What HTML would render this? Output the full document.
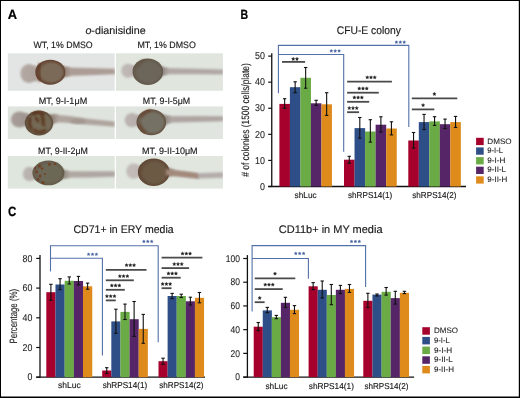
<!DOCTYPE html>
<html><head><meta charset="utf-8"><style>
html,body{margin:0;padding:0;background:#fff;width:520px;height:398px;overflow:hidden;}
svg{display:block;will-change:transform;font-family:"Liberation Sans", sans-serif;}
</style></head><body>
<svg width="520" height="398" viewBox="0 0 520 398" font-family="'Liberation Sans', sans-serif" text-rendering="geometricPrecision">
<defs><filter id="bl3" x="-30%" y="-30%" width="160%" height="160%"><feGaussianBlur stdDeviation="1.8"/></filter><filter id="bl0" x="-20%" y="-20%" width="140%" height="140%"><feGaussianBlur stdDeviation="0.55"/></filter><filter id="bl" x="-20%" y="-20%" width="140%" height="140%"><feGaussianBlur stdDeviation="0.8"/></filter><filter id="bl2" x="-20%" y="-20%" width="140%" height="140%"><feGaussianBlur stdDeviation="0.9"/></filter><radialGradient id="yk1" cx="55%" cy="55%" r="60%"><stop offset="0" stop-color="#7a6c5c"/><stop offset="0.7" stop-color="#6d5342"/><stop offset="1" stop-color="#5a3a28"/></radialGradient><radialGradient id="yk2" cx="55%" cy="55%" r="60%"><stop offset="0" stop-color="#746a5e"/><stop offset="0.8" stop-color="#6b6052"/><stop offset="1" stop-color="#5f5244"/></radialGradient><radialGradient id="yk6" cx="55%" cy="55%" r="60%"><stop offset="0" stop-color="#705640"/><stop offset="0.8" stop-color="#684a32"/><stop offset="1" stop-color="#5c3c26"/></radialGradient></defs>
<rect x="0" y="0" width="520" height="398" fill="#ffffff"/>
<rect x="7.8" y="53.3" width="106.9" height="37.5" fill="#e3e5e4"/>
<svg x="7.8" y="53.3" width="106.9" height="37.5" viewBox="7.8 53.3 106.9 37.5" overflow="hidden">
<linearGradient id="h5" x1="0" y1="0" x2="1" y2="0"><stop offset="0" stop-color="#aea29c" stop-opacity="0.9"/><stop offset="1" stop-color="#aea29c"/></linearGradient>
<ellipse cx="29.0" cy="73.5" rx="8.6" ry="9.6" fill="url(#h5)" filter="url(#bl2)"/>
<ellipse cx="35.9" cy="73.5" rx="5.2" ry="7.7" fill="#aea29c" filter="url(#bl2)"/>
<path d="M64.0,67.5 L90.0,68.0 L114.8,68.7 Q116.0,71.5 114.8,74.3 L114.8,74.3 L90.0,75.2 L64.0,76.0 Z" fill="#ab9c95" filter="url(#bl)"/>
<linearGradient id="n9" gradientUnits="userSpaceOnUse" x1="59.3" y1="0" x2="70.3" y2="0"><stop offset="0" stop-color="#7c6a58"/><stop offset="1" stop-color="#ab9c95"/></linearGradient>
<path d="M57.8,63.5 Q65.8,67.5 70.3,67.5 L70.3,76.0 Q65.8,76.0 57.8,81.0 Z" fill="url(#n9)" filter="url(#bl)"/>
<radialGradient id="r11" cx="0.5" cy="0.5" r="0.5" fx="0.64" fy="0.55"><stop offset="0" stop-color="#7c6a58"/><stop offset="0.68" stop-color="#7c6a58"/><stop offset="1" stop-color="#603e2c"/></radialGradient>
<ellipse cx="50.3" cy="72.2" rx="15.0" ry="12.5" fill="url(#r11)" filter="url(#bl0)"/>
<path d="M40,63.5 Q36.5,72 40.5,81.5" stroke="rgba(95,52,32,0.55)" stroke-width="4" fill="none" filter="url(#bl)"/>
</svg>
<rect x="116.0" y="53.3" width="106.9" height="37.5" fill="#e0e5de"/>
<svg x="116.0" y="53.3" width="106.9" height="37.5" viewBox="116.0 53.3 106.9 37.5" overflow="hidden">
<linearGradient id="h17" x1="0" y1="0" x2="1" y2="0"><stop offset="0" stop-color="#bcb4b1" stop-opacity="0.9"/><stop offset="1" stop-color="#bcb4b1"/></linearGradient>
<ellipse cx="128" cy="70.8" rx="6.8" ry="7.0" fill="url(#h17)" filter="url(#bl2)"/>
<ellipse cx="133.4" cy="70.8" rx="4.1" ry="5.6" fill="#bcb4b1" filter="url(#bl2)"/>
<path d="M162.0,67.9 L200.0,68.8 L222.9,69.6 Q224.1,72.0 222.9,74.4 L222.9,74.4 L200.0,74.2 L162.0,74.3 Z" fill="#b0a7a4" filter="url(#bl)"/>
<linearGradient id="n21" gradientUnits="userSpaceOnUse" x1="157.0" y1="0" x2="168.1" y2="0"><stop offset="0" stop-color="#6c665a"/><stop offset="1" stop-color="#b0a7a4"/></linearGradient>
<path d="M155.5,62.4 Q163.6,67.9 168.1,67.9 L168.1,74.3 Q163.6,74.3 155.5,81.0 Z" fill="url(#n21)" filter="url(#bl)"/>
<radialGradient id="r23" cx="0.5" cy="0.5" r="0.5" fx="0.64" fy="0.55"><stop offset="0" stop-color="#6c665a"/><stop offset="0.68" stop-color="#6c665a"/><stop offset="1" stop-color="#62584a"/></radialGradient>
<ellipse cx="147.8" cy="71.7" rx="15.3" ry="13.3" fill="url(#r23)" filter="url(#bl0)"/>
<path d="M137,67 Q139,62 145,59.5" stroke="rgba(100,70,50,0.35)" stroke-width="2.5" fill="none" filter="url(#bl)"/>
</svg>
<rect x="7.8" y="106.4" width="106.9" height="32.6" fill="#dfe5de"/>
<svg x="7.8" y="106.4" width="106.9" height="32.6" viewBox="7.8 106.4 106.9 32.6" overflow="hidden">
<linearGradient id="h29" x1="0" y1="0" x2="1" y2="0"><stop offset="0" stop-color="#a19590" stop-opacity="0.9"/><stop offset="1" stop-color="#a19590"/></linearGradient>
<ellipse cx="19.5" cy="119.5" rx="8.6" ry="8.0" fill="url(#h29)" filter="url(#bl2)"/>
<ellipse cx="26.4" cy="119.5" rx="5.2" ry="6.4" fill="#a19590" filter="url(#bl2)"/>
<path d="M52.0,114.6 L70.0,116.0 L86.0,118.5 L114.4,121.5 Q115.6,124.1 114.4,126.7 L114.4,126.7 L86.0,124.5 L70.0,123.0 L52.0,122.0 Z" fill="#afa49e" filter="url(#bl)"/>
<linearGradient id="n33" gradientUnits="userSpaceOnUse" x1="47.5" y1="0" x2="58.2" y2="0"><stop offset="0" stop-color="#746a57"/><stop offset="1" stop-color="#afa49e"/></linearGradient>
<path d="M46.1,114.3 Q53.7,114.6 58.2,114.6 L58.2,122.0 Q53.7,122.0 46.1,131.7 Z" fill="url(#n33)" filter="url(#bl)"/>
<radialGradient id="r35" cx="0.5" cy="0.5" r="0.5" fx="0.64" fy="0.55"><stop offset="0" stop-color="#746a57"/><stop offset="0.68" stop-color="#746a57"/><stop offset="1" stop-color="#5f4c3a"/></radialGradient>
<ellipse cx="39" cy="123" rx="14.2" ry="12.4" fill="url(#r35)" filter="url(#bl0)"/>
<ellipse cx="78" cy="121.3" rx="8" ry="2.4" fill="#a39690" filter="url(#bl)"/><g fill="none" stroke="rgba(88,45,22,0.85)" stroke-width="2.8" stroke-linecap="round" filter="url(#bl)"><path d="M33,114 Q38,111.5 43,114 Q41,117 43.5,120 Q42,123 44,125"/><path d="M30,119 Q29,124 31,128"/><path d="M34,130 Q39,134 45,130.5"/><path d="M36,118 L38,121"/></g>
</svg>
<rect x="116.0" y="106.4" width="106.9" height="32.6" fill="#e0e5df"/>
<svg x="116.0" y="106.4" width="106.9" height="32.6" viewBox="116.0 106.4 106.9 32.6" overflow="hidden">
<linearGradient id="h41" x1="0" y1="0" x2="1" y2="0"><stop offset="0" stop-color="#b8afac" stop-opacity="0.9"/><stop offset="1" stop-color="#b8afac"/></linearGradient>
<ellipse cx="131.8" cy="120.2" rx="7.1" ry="7.1" fill="url(#h41)" filter="url(#bl2)"/>
<ellipse cx="137.5" cy="120.2" rx="4.3" ry="5.7" fill="#b8afac" filter="url(#bl2)"/>
<path d="M165.8,116.2 L195.0,116.0 L222.9,116.2 Q224.1,118.8 222.9,121.3 L222.9,121.3 L195.0,122.0 L165.8,122.8 Z" fill="#aea5a2" filter="url(#bl)"/>
<linearGradient id="n45" gradientUnits="userSpaceOnUse" x1="160.2" y1="0" x2="171.1" y2="0"><stop offset="0" stop-color="#757265"/><stop offset="1" stop-color="#aea5a2"/></linearGradient>
<path d="M158.7,113.1 Q166.6,116.2 171.1,116.2 L171.1,122.8 Q166.6,122.8 158.7,131.3 Z" fill="url(#n45)" filter="url(#bl)"/>
<radialGradient id="r47" cx="0.5" cy="0.5" r="0.5" fx="0.64" fy="0.55"><stop offset="0" stop-color="#757265"/><stop offset="0.68" stop-color="#757265"/><stop offset="1" stop-color="#645140"/></radialGradient>
<ellipse cx="151.3" cy="122.2" rx="14.8" ry="13.0" fill="url(#r47)" filter="url(#bl0)"/>
<path d="M141,117 Q144.5,111.5 151,110.5 M139.5,124 Q141,129.5 146,132.5" stroke="rgba(100,55,32,0.55)" stroke-width="3" fill="none" filter="url(#bl)"/>
</svg>
<rect x="7.8" y="156.0" width="106.9" height="32.6" fill="#dfe6dd"/>
<svg x="7.8" y="156.0" width="106.9" height="32.6" viewBox="7.8 156.0 106.9 32.6" overflow="hidden">
<linearGradient id="h53" x1="0" y1="0" x2="1" y2="0"><stop offset="0" stop-color="#b7afac" stop-opacity="0.9"/><stop offset="1" stop-color="#b7afac"/></linearGradient>
<ellipse cx="29.5" cy="173.9" rx="6.7" ry="7.1" fill="url(#h53)" filter="url(#bl2)"/>
<ellipse cx="34.9" cy="173.9" rx="4.0" ry="5.7" fill="#b7afac" filter="url(#bl2)"/>
<path d="M64.2,171.2 L90.0,171.2 L114.6,171.3 Q115.8,174.0 114.6,176.7 L114.6,176.7 L90.0,177.4 L64.2,177.8 Z" fill="#afa6a2" filter="url(#bl)"/>
<linearGradient id="n57" gradientUnits="userSpaceOnUse" x1="58.0" y1="0" x2="69.4" y2="0"><stop offset="0" stop-color="#6c6757"/><stop offset="1" stop-color="#afa6a2"/></linearGradient>
<path d="M56.4,164.2 Q64.9,171.2 69.4,171.2 L69.4,177.8 Q64.9,177.8 56.4,181.6 Z" fill="url(#n57)" filter="url(#bl)"/>
<radialGradient id="r59" cx="0.5" cy="0.5" r="0.5" fx="0.64" fy="0.55"><stop offset="0" stop-color="#6c6757"/><stop offset="0.68" stop-color="#6c6757"/><stop offset="1" stop-color="#635a49"/></radialGradient>
<ellipse cx="48.4" cy="172.9" rx="16.0" ry="12.4" fill="url(#r59)" filter="url(#bl0)"/>
<g fill="rgba(115,58,28,0.85)" filter="url(#bl0)"><circle cx="39.5" cy="166" r="1.6"/><circle cx="42" cy="168.5" r="1.3"/><circle cx="36.5" cy="172" r="1.4"/><circle cx="40" cy="176" r="1.5"/><circle cx="38" cy="179.5" r="1.3"/><circle cx="43" cy="182.5" r="1.5"/><circle cx="49.5" cy="164.5" r="1.4"/><circle cx="55" cy="164" r="1.2"/><circle cx="45" cy="174" r="1.1"/><circle cx="35" cy="168" r="1.1"/></g>
</svg>
<rect x="116.0" y="156.0" width="106.9" height="32.6" fill="#e1e6df"/>
<svg x="116.0" y="156.0" width="106.9" height="32.6" viewBox="116.0 156.0 106.9 32.6" overflow="hidden">
<linearGradient id="h65" x1="0" y1="0" x2="1" y2="0"><stop offset="0" stop-color="#c0b8b5" stop-opacity="0.9"/><stop offset="1" stop-color="#c0b8b5"/></linearGradient>
<ellipse cx="133.5" cy="171.1" rx="7.3" ry="7.6" fill="url(#h65)" filter="url(#bl2)"/>
<ellipse cx="139.3" cy="171.1" rx="4.4" ry="6.1" fill="#c0b8b5" filter="url(#bl2)"/>
<path d="M168.8,169.5 L197.5,173.3 L222.9,172.3 Q224.1,175.0 222.9,177.7 L222.9,177.7 L197.5,178.5 L168.8,175.1 Z" fill="#b3acaa" filter="url(#bl)"/>
<linearGradient id="n69" gradientUnits="userSpaceOnUse" x1="163.2" y1="0" x2="174.5" y2="0"><stop offset="0" stop-color="#6d5a45"/><stop offset="1" stop-color="#b3acaa"/></linearGradient>
<path d="M161.6,162.6 Q170.0,169.5 174.5,169.5 L174.5,175.1 Q170.0,175.1 161.6,182.0 Z" fill="url(#n69)" filter="url(#bl)"/>
<radialGradient id="r71" cx="0.5" cy="0.5" r="0.5" fx="0.64" fy="0.55"><stop offset="0" stop-color="#6d5a45"/><stop offset="0.68" stop-color="#6d5a45"/><stop offset="1" stop-color="#5e4633"/></radialGradient>
<ellipse cx="153.7" cy="172.3" rx="15.8" ry="13.8" fill="url(#r71)" filter="url(#bl0)"/>
<path d="M166,169.3 L197.5,173.3 L199,178.5 L166,175.1 Z" fill="#a3897a" filter="url(#bl)"/>
</svg>
<text x="85.4" y="34.4" font-size="10.7" text-anchor="start" fill="#1a1a1a" font-weight="normal" textLength="60.3" lengthAdjust="spacingAndGlyphs" stroke="#1a1a1a" stroke-width="0.15" ><tspan font-style="italic">o</tspan>-dianisidine</text>
<text x="33.5" y="48.1" font-size="9.2" text-anchor="start" fill="#1a1a1a" font-weight="normal" textLength="59.2" lengthAdjust="spacingAndGlyphs" stroke="#1a1a1a" stroke-width="0.15" >WT, 1% DMSO</text>
<text x="137.4" y="48.1" font-size="9.2" text-anchor="start" fill="#1a1a1a" font-weight="normal" textLength="58.5" lengthAdjust="spacingAndGlyphs" stroke="#1a1a1a" stroke-width="0.15" >MT, 1% DMSO</text>
<text x="38.7" y="104.1" font-size="9.2" text-anchor="start" fill="#1a1a1a" font-weight="normal" textLength="48.5" lengthAdjust="spacingAndGlyphs" stroke="#1a1a1a" stroke-width="0.15" >MT, 9-I-1μM</text>
<text x="142.8" y="104.1" font-size="9.2" text-anchor="start" fill="#1a1a1a" font-weight="normal" textLength="47.4" lengthAdjust="spacingAndGlyphs" stroke="#1a1a1a" stroke-width="0.15" >MT, 9-I-5μM</text>
<text x="38.1" y="154.0" font-size="9.2" text-anchor="start" fill="#1a1a1a" font-weight="normal" textLength="49.8" lengthAdjust="spacingAndGlyphs" stroke="#1a1a1a" stroke-width="0.15" >MT, 9-II-2μM</text>
<text x="142" y="154.0" font-size="9.2" text-anchor="start" fill="#1a1a1a" font-weight="normal" textLength="55.6" lengthAdjust="spacingAndGlyphs" stroke="#1a1a1a" stroke-width="0.15" >MT, 9-II-10μM</text>
<text x="7.8" y="18.5" font-size="13.4" text-anchor="start" fill="#000" font-weight="bold" textLength="9.3" lengthAdjust="spacingAndGlyphs" stroke="#000" stroke-width="0.2" >A</text>
<text x="240.5" y="18.5" font-size="13.4" text-anchor="start" fill="#000" font-weight="bold" textLength="7.6" lengthAdjust="spacingAndGlyphs" stroke="#000" stroke-width="0.2" >B</text>
<text x="8.0" y="216.3" font-size="13.4" text-anchor="start" fill="#000" font-weight="bold" textLength="8.3" lengthAdjust="spacingAndGlyphs" stroke="#000" stroke-width="0.2" >C</text>
<line x1="271.75" y1="53.2" x2="271.75" y2="187.1" stroke="#111" stroke-width="1.3"/>
<line x1="268.2" y1="186.5" x2="271.75" y2="186.5" stroke="#111" stroke-width="1.2"/>
<text x="264.9" y="189.7" font-size="10" text-anchor="end" fill="#1e1e1e" font-weight="normal" textLength="4.95" lengthAdjust="spacingAndGlyphs" stroke="#1e1e1e" stroke-width="0.1" >0</text>
<line x1="268.2" y1="160.42" x2="271.75" y2="160.42" stroke="#111" stroke-width="1.2"/>
<text x="264.9" y="163.61999999999998" font-size="10" text-anchor="end" fill="#1e1e1e" font-weight="normal" textLength="9.9" lengthAdjust="spacingAndGlyphs" stroke="#1e1e1e" stroke-width="0.1" >10</text>
<line x1="268.2" y1="134.34" x2="271.75" y2="134.34" stroke="#111" stroke-width="1.2"/>
<text x="264.9" y="137.54" font-size="10" text-anchor="end" fill="#1e1e1e" font-weight="normal" textLength="9.9" lengthAdjust="spacingAndGlyphs" stroke="#1e1e1e" stroke-width="0.1" >20</text>
<line x1="268.2" y1="108.25999999999999" x2="271.75" y2="108.25999999999999" stroke="#111" stroke-width="1.2"/>
<text x="264.9" y="111.46" font-size="10" text-anchor="end" fill="#1e1e1e" font-weight="normal" textLength="9.9" lengthAdjust="spacingAndGlyphs" stroke="#1e1e1e" stroke-width="0.1" >30</text>
<line x1="268.2" y1="82.17999999999999" x2="271.75" y2="82.17999999999999" stroke="#111" stroke-width="1.2"/>
<text x="264.9" y="85.38" font-size="10" text-anchor="end" fill="#1e1e1e" font-weight="normal" textLength="9.9" lengthAdjust="spacingAndGlyphs" stroke="#1e1e1e" stroke-width="0.1" >40</text>
<line x1="268.2" y1="56.099999999999994" x2="271.75" y2="56.099999999999994" stroke="#111" stroke-width="1.2"/>
<text x="264.9" y="59.3" font-size="10" text-anchor="end" fill="#1e1e1e" font-weight="normal" textLength="9.9" lengthAdjust="spacingAndGlyphs" stroke="#1e1e1e" stroke-width="0.1" >50</text>
<line x1="268.2" y1="186.5" x2="466" y2="186.5" stroke="#111" stroke-width="1.3"/>
<rect x="279.40" y="103.9" width="10.55" height="82.60" fill="#a6002c"/>
<rect x="289.90" y="87.2" width="10.55" height="99.30" fill="#2d4e86"/>
<rect x="300.40" y="77.8" width="10.55" height="108.70" fill="#6aab45"/>
<rect x="310.90" y="103.3" width="10.55" height="83.20" fill="#552567"/>
<rect x="321.40" y="104.3" width="10.55" height="82.20" fill="#de8b1c"/>
<line x1="284.65" y1="98.7" x2="284.65" y2="108.3" stroke="#111" stroke-width="1.1"/>
<line x1="282.95" y1="98.7" x2="286.34999999999997" y2="98.7" stroke="#111" stroke-width="1.1"/>
<line x1="282.95" y1="108.3" x2="286.34999999999997" y2="108.3" stroke="#111" stroke-width="1.1"/>
<line x1="295.15" y1="81.8" x2="295.15" y2="92.7" stroke="#111" stroke-width="1.1"/>
<line x1="293.45" y1="81.8" x2="296.84999999999997" y2="81.8" stroke="#111" stroke-width="1.1"/>
<line x1="293.45" y1="92.7" x2="296.84999999999997" y2="92.7" stroke="#111" stroke-width="1.1"/>
<line x1="305.65" y1="67.5" x2="305.65" y2="88.2" stroke="#111" stroke-width="1.1"/>
<line x1="303.95" y1="67.5" x2="307.34999999999997" y2="67.5" stroke="#111" stroke-width="1.1"/>
<line x1="303.95" y1="88.2" x2="307.34999999999997" y2="88.2" stroke="#111" stroke-width="1.1"/>
<line x1="316.15" y1="100.3" x2="316.15" y2="105.3" stroke="#111" stroke-width="1.1"/>
<line x1="314.45" y1="100.3" x2="317.84999999999997" y2="100.3" stroke="#111" stroke-width="1.1"/>
<line x1="314.45" y1="105.3" x2="317.84999999999997" y2="105.3" stroke="#111" stroke-width="1.1"/>
<line x1="326.65" y1="92.7" x2="326.65" y2="115.4" stroke="#111" stroke-width="1.1"/>
<line x1="324.95" y1="92.7" x2="328.34999999999997" y2="92.7" stroke="#111" stroke-width="1.1"/>
<line x1="324.95" y1="115.4" x2="328.34999999999997" y2="115.4" stroke="#111" stroke-width="1.1"/>
<rect x="344.00" y="159.7" width="10.59" height="26.80" fill="#a6002c"/>
<rect x="354.54" y="128.1" width="10.59" height="58.40" fill="#2d4e86"/>
<rect x="365.08" y="131.5" width="10.59" height="55.00" fill="#6aab45"/>
<rect x="375.62" y="124.7" width="10.59" height="61.80" fill="#552567"/>
<rect x="386.16" y="128.5" width="10.59" height="58.00" fill="#de8b1c"/>
<line x1="349.27" y1="156.3" x2="349.27" y2="163.3" stroke="#111" stroke-width="1.1"/>
<line x1="347.57" y1="156.3" x2="350.96999999999997" y2="156.3" stroke="#111" stroke-width="1.1"/>
<line x1="347.57" y1="163.3" x2="350.96999999999997" y2="163.3" stroke="#111" stroke-width="1.1"/>
<line x1="359.81" y1="117.5" x2="359.81" y2="138.2" stroke="#111" stroke-width="1.1"/>
<line x1="358.11" y1="117.5" x2="361.51" y2="117.5" stroke="#111" stroke-width="1.1"/>
<line x1="358.11" y1="138.2" x2="361.51" y2="138.2" stroke="#111" stroke-width="1.1"/>
<line x1="370.34999999999997" y1="119.7" x2="370.34999999999997" y2="142.1" stroke="#111" stroke-width="1.1"/>
<line x1="368.65" y1="119.7" x2="372.04999999999995" y2="119.7" stroke="#111" stroke-width="1.1"/>
<line x1="368.65" y1="142.1" x2="372.04999999999995" y2="142.1" stroke="#111" stroke-width="1.1"/>
<line x1="380.89" y1="116.8" x2="380.89" y2="132.1" stroke="#111" stroke-width="1.1"/>
<line x1="379.19" y1="116.8" x2="382.59" y2="116.8" stroke="#111" stroke-width="1.1"/>
<line x1="379.19" y1="132.1" x2="382.59" y2="132.1" stroke="#111" stroke-width="1.1"/>
<line x1="391.42999999999995" y1="121.8" x2="391.42999999999995" y2="134.9" stroke="#111" stroke-width="1.1"/>
<line x1="389.72999999999996" y1="121.8" x2="393.12999999999994" y2="121.8" stroke="#111" stroke-width="1.1"/>
<line x1="389.72999999999996" y1="134.9" x2="393.12999999999994" y2="134.9" stroke="#111" stroke-width="1.1"/>
<rect x="408.30" y="140.5" width="10.55" height="46.00" fill="#a6002c"/>
<rect x="418.80" y="122.1" width="10.55" height="64.40" fill="#2d4e86"/>
<rect x="429.30" y="121.4" width="10.55" height="65.10" fill="#6aab45"/>
<rect x="439.80" y="124.2" width="10.55" height="62.30" fill="#552567"/>
<rect x="450.30" y="122.1" width="10.55" height="64.40" fill="#de8b1c"/>
<line x1="413.55" y1="132.5" x2="413.55" y2="148.1" stroke="#111" stroke-width="1.1"/>
<line x1="411.85" y1="132.5" x2="415.25" y2="132.5" stroke="#111" stroke-width="1.1"/>
<line x1="411.85" y1="148.1" x2="415.25" y2="148.1" stroke="#111" stroke-width="1.1"/>
<line x1="424.05" y1="114.4" x2="424.05" y2="129.5" stroke="#111" stroke-width="1.1"/>
<line x1="422.35" y1="114.4" x2="425.75" y2="114.4" stroke="#111" stroke-width="1.1"/>
<line x1="422.35" y1="129.5" x2="425.75" y2="129.5" stroke="#111" stroke-width="1.1"/>
<line x1="434.55" y1="116.7" x2="434.55" y2="125.4" stroke="#111" stroke-width="1.1"/>
<line x1="432.85" y1="116.7" x2="436.25" y2="116.7" stroke="#111" stroke-width="1.1"/>
<line x1="432.85" y1="125.4" x2="436.25" y2="125.4" stroke="#111" stroke-width="1.1"/>
<line x1="445.05" y1="119.1" x2="445.05" y2="128.5" stroke="#111" stroke-width="1.1"/>
<line x1="443.35" y1="119.1" x2="446.75" y2="119.1" stroke="#111" stroke-width="1.1"/>
<line x1="443.35" y1="128.5" x2="446.75" y2="128.5" stroke="#111" stroke-width="1.1"/>
<line x1="455.55" y1="116.4" x2="455.55" y2="127.4" stroke="#111" stroke-width="1.1"/>
<line x1="453.85" y1="116.4" x2="457.25" y2="116.4" stroke="#111" stroke-width="1.1"/>
<line x1="453.85" y1="127.4" x2="457.25" y2="127.4" stroke="#111" stroke-width="1.1"/>
<polyline points="278.4,93.3 278.4,45.4 408.8,45.4 408.8,127.0" fill="none" stroke="#5470a8" stroke-width="1.1"/>
<polyline points="278.4,54.5 343.7,54.5 343.7,151.8" fill="none" stroke="#5470a8" stroke-width="1.1"/>
<polygon points="331.30,49.40 331.77,50.35 332.82,50.51 332.06,51.25 332.24,52.29 331.30,51.80 330.36,52.29 330.54,51.25 329.78,50.51 330.83,50.35" fill="#44609e" stroke="#44609e" stroke-width="0.35" stroke-linejoin="round"/>
<polygon points="335.20,49.40 335.67,50.35 336.72,50.51 335.96,51.25 336.14,52.29 335.20,51.80 334.26,52.29 334.44,51.25 333.68,50.51 334.73,50.35" fill="#44609e" stroke="#44609e" stroke-width="0.35" stroke-linejoin="round"/>
<polygon points="339.10,49.40 339.57,50.35 340.62,50.51 339.86,51.25 340.04,52.29 339.10,51.80 338.16,52.29 338.34,51.25 337.58,50.51 338.63,50.35" fill="#44609e" stroke="#44609e" stroke-width="0.35" stroke-linejoin="round"/>
<polygon points="396.40,40.60 396.87,41.55 397.92,41.71 397.16,42.45 397.34,43.49 396.40,43.00 395.46,43.49 395.64,42.45 394.88,41.71 395.93,41.55" fill="#44609e" stroke="#44609e" stroke-width="0.35" stroke-linejoin="round"/>
<polygon points="400.30,40.60 400.77,41.55 401.82,41.71 401.06,42.45 401.24,43.49 400.30,43.00 399.36,43.49 399.54,42.45 398.78,41.71 399.83,41.55" fill="#44609e" stroke="#44609e" stroke-width="0.35" stroke-linejoin="round"/>
<polygon points="404.20,40.60 404.67,41.55 405.72,41.71 404.96,42.45 405.14,43.49 404.20,43.00 403.26,43.49 403.44,42.45 402.68,41.71 403.73,41.55" fill="#44609e" stroke="#44609e" stroke-width="0.35" stroke-linejoin="round"/>
<line x1="282" y1="61.9" x2="305.1" y2="61.9" stroke="#4a4a4a" stroke-width="1.8"/>
<polygon points="293.23,57.25 293.74,58.29 294.89,58.46 294.06,59.27 294.25,60.42 293.23,59.88 292.20,60.42 292.39,59.27 291.56,58.46 292.71,58.29" fill="#1e1e1e" stroke="#1e1e1e" stroke-width="0.35" stroke-linejoin="round"/>
<polygon points="296.98,57.25 297.49,58.29 298.64,58.46 297.81,59.27 298.00,60.42 296.98,59.88 295.95,60.42 296.14,59.27 295.31,58.46 296.46,58.29" fill="#1e1e1e" stroke="#1e1e1e" stroke-width="0.35" stroke-linejoin="round"/>
<line x1="347.1" y1="81.7" x2="391.9" y2="81.7" stroke="#4a4a4a" stroke-width="1.8"/>
<polygon points="367.25,75.65 367.76,76.69 368.91,76.86 368.08,77.67 368.28,78.82 367.25,78.28 366.22,78.82 366.42,77.67 365.59,76.86 366.74,76.69" fill="#1e1e1e" stroke="#1e1e1e" stroke-width="0.35" stroke-linejoin="round"/>
<polygon points="371.00,75.65 371.51,76.69 372.66,76.86 371.83,77.67 372.03,78.82 371.00,78.28 369.97,78.82 370.17,77.67 369.34,76.86 370.49,76.69" fill="#1e1e1e" stroke="#1e1e1e" stroke-width="0.35" stroke-linejoin="round"/>
<polygon points="374.75,75.65 375.26,76.69 376.41,76.86 375.58,77.67 375.78,78.82 374.75,78.28 373.72,78.82 373.92,77.67 373.09,76.86 374.24,76.69" fill="#1e1e1e" stroke="#1e1e1e" stroke-width="0.35" stroke-linejoin="round"/>
<line x1="347.1" y1="92.7" x2="378.8" y2="92.7" stroke="#4a4a4a" stroke-width="1.8"/>
<polygon points="359.25,86.75 359.76,87.79 360.91,87.96 360.08,88.77 360.28,89.92 359.25,89.38 358.22,89.92 358.42,88.77 357.59,87.96 358.74,87.79" fill="#1e1e1e" stroke="#1e1e1e" stroke-width="0.35" stroke-linejoin="round"/>
<polygon points="363.00,86.75 363.51,87.79 364.66,87.96 363.83,88.77 364.03,89.92 363.00,89.38 361.97,89.92 362.17,88.77 361.34,87.96 362.49,87.79" fill="#1e1e1e" stroke="#1e1e1e" stroke-width="0.35" stroke-linejoin="round"/>
<polygon points="366.75,86.75 367.26,87.79 368.41,87.96 367.58,88.77 367.78,89.92 366.75,89.38 365.72,89.92 365.92,88.77 365.09,87.96 366.24,87.79" fill="#1e1e1e" stroke="#1e1e1e" stroke-width="0.35" stroke-linejoin="round"/>
<line x1="347.1" y1="101.8" x2="369.2" y2="101.8" stroke="#4a4a4a" stroke-width="1.8"/>
<polygon points="354.35,95.75 354.86,96.79 356.01,96.96 355.18,97.77 355.38,98.92 354.35,98.38 353.32,98.92 353.52,97.77 352.69,96.96 353.84,96.79" fill="#1e1e1e" stroke="#1e1e1e" stroke-width="0.35" stroke-linejoin="round"/>
<polygon points="358.10,95.75 358.61,96.79 359.76,96.96 358.93,97.77 359.13,98.92 358.10,98.38 357.07,98.92 357.27,97.77 356.44,96.96 357.59,96.79" fill="#1e1e1e" stroke="#1e1e1e" stroke-width="0.35" stroke-linejoin="round"/>
<polygon points="361.85,95.75 362.36,96.79 363.51,96.96 362.68,97.77 362.88,98.92 361.85,98.38 360.82,98.92 361.02,97.77 360.19,96.96 361.34,96.79" fill="#1e1e1e" stroke="#1e1e1e" stroke-width="0.35" stroke-linejoin="round"/>
<line x1="347.1" y1="112.2" x2="359.1" y2="112.2" stroke="#4a4a4a" stroke-width="1.8"/>
<polygon points="349.25,106.35 349.76,107.39 350.91,107.56 350.08,108.37 350.28,109.52 349.25,108.97 348.22,109.52 348.42,108.37 347.59,107.56 348.74,107.39" fill="#1e1e1e" stroke="#1e1e1e" stroke-width="0.35" stroke-linejoin="round"/>
<polygon points="353.00,106.35 353.51,107.39 354.66,107.56 353.83,108.37 354.03,109.52 353.00,108.97 351.97,109.52 352.17,108.37 351.34,107.56 352.49,107.39" fill="#1e1e1e" stroke="#1e1e1e" stroke-width="0.35" stroke-linejoin="round"/>
<polygon points="356.75,106.35 357.26,107.39 358.41,107.56 357.58,108.37 357.78,109.52 356.75,108.97 355.72,109.52 355.92,108.37 355.09,107.56 356.24,107.39" fill="#1e1e1e" stroke="#1e1e1e" stroke-width="0.35" stroke-linejoin="round"/>
<line x1="411.8" y1="98.4" x2="457.3" y2="98.4" stroke="#4a4a4a" stroke-width="1.8"/>
<polygon points="434.40,92.25 434.91,93.29 436.06,93.46 435.23,94.27 435.43,95.42 434.40,94.88 433.37,95.42 433.57,94.27 432.74,93.46 433.89,93.29" fill="#1e1e1e" stroke="#1e1e1e" stroke-width="0.35" stroke-linejoin="round"/>
<line x1="411.8" y1="109.4" x2="434.3" y2="109.4" stroke="#4a4a4a" stroke-width="1.8"/>
<polygon points="423.10,103.45 423.61,104.49 424.76,104.66 423.93,105.47 424.13,106.62 423.10,106.08 422.07,106.62 422.27,105.47 421.44,104.66 422.59,104.49" fill="#1e1e1e" stroke="#1e1e1e" stroke-width="0.35" stroke-linejoin="round"/>
<text x="294.6" y="198" font-size="8.6" text-anchor="start" fill="#222" font-weight="normal" textLength="22.1" lengthAdjust="spacingAndGlyphs" stroke="#222" stroke-width="0.15" >shLuc</text>
<text x="348" y="198" font-size="8.6" text-anchor="start" fill="#222" font-weight="normal" textLength="44.3" lengthAdjust="spacingAndGlyphs" stroke="#222" stroke-width="0.15" >shRPS14(1)</text>
<text x="412.3" y="198" font-size="8.6" text-anchor="start" fill="#222" font-weight="normal" textLength="44.2" lengthAdjust="spacingAndGlyphs" stroke="#222" stroke-width="0.15" >shRPS14(2)</text>
<text x="336.7" y="33.5" font-size="11" text-anchor="start" fill="#1a1a1a" font-weight="normal" textLength="64.2" lengthAdjust="spacingAndGlyphs" stroke="#1a1a1a" stroke-width="0.15" >CFU-E colony</text>
<rect x="476.1" y="137.8" width="7.6" height="7.3" fill="#a6002c"/>
<text x="487.3" y="143.6" font-size="7.9" text-anchor="start" fill="#1a1a1a" font-weight="normal" textLength="24.3" lengthAdjust="spacingAndGlyphs" stroke="#1a1a1a" stroke-width="0.08" >DMSO</text>
<rect x="476.1" y="147.4" width="7.6" height="7.3" fill="#2d4e86"/>
<text x="487.3" y="153.23" font-size="7.9" text-anchor="start" fill="#1a1a1a" font-weight="normal" textLength="15.7" lengthAdjust="spacingAndGlyphs" stroke="#1a1a1a" stroke-width="0.08" >9-I-L</text>
<rect x="476.1" y="157.1" width="7.6" height="7.3" fill="#6aab45"/>
<text x="487.3" y="162.86" font-size="7.9" text-anchor="start" fill="#1a1a1a" font-weight="normal" textLength="18.1" lengthAdjust="spacingAndGlyphs" stroke="#1a1a1a" stroke-width="0.08" >9-I-H</text>
<rect x="476.1" y="166.7" width="7.6" height="7.3" fill="#552567"/>
<text x="487.3" y="172.49" font-size="7.9" text-anchor="start" fill="#1a1a1a" font-weight="normal" textLength="18.8" lengthAdjust="spacingAndGlyphs" stroke="#1a1a1a" stroke-width="0.08" >9-II-L</text>
<rect x="476.1" y="176.3" width="7.6" height="7.3" fill="#de8b1c"/>
<text x="487.3" y="182.12" font-size="7.9" text-anchor="start" fill="#1a1a1a" font-weight="normal" textLength="20.0" lengthAdjust="spacingAndGlyphs" stroke="#1a1a1a" stroke-width="0.08" >9-II-H</text>
<text x="0" y="0" font-size="10.6" text-anchor="middle" fill="#222" stroke="#222" stroke-width="0.12" textLength="113.5" lengthAdjust="spacingAndGlyphs" transform="translate(248.9,120.05) rotate(-90)"># of colonies (1500 cells/plate)</text>
<line x1="40.0" y1="255.1" x2="40.0" y2="377.8" stroke="#111" stroke-width="1.3"/>
<line x1="36.2" y1="377.2" x2="40.0" y2="377.2" stroke="#111" stroke-width="1.2"/>
<text x="32.4" y="380.4" font-size="9.8" text-anchor="end" fill="#1e1e1e" font-weight="normal" textLength="4.9" lengthAdjust="spacingAndGlyphs" stroke="#1e1e1e" stroke-width="0.1" >0</text>
<line x1="36.2" y1="347.5" x2="40.0" y2="347.5" stroke="#111" stroke-width="1.2"/>
<text x="32.4" y="350.7" font-size="9.8" text-anchor="end" fill="#1e1e1e" font-weight="normal" textLength="9.8" lengthAdjust="spacingAndGlyphs" stroke="#1e1e1e" stroke-width="0.1" >20</text>
<line x1="36.2" y1="317.79999999999995" x2="40.0" y2="317.79999999999995" stroke="#111" stroke-width="1.2"/>
<text x="32.4" y="320.99999999999994" font-size="9.8" text-anchor="end" fill="#1e1e1e" font-weight="normal" textLength="9.8" lengthAdjust="spacingAndGlyphs" stroke="#1e1e1e" stroke-width="0.1" >40</text>
<line x1="36.2" y1="288.09999999999997" x2="40.0" y2="288.09999999999997" stroke="#111" stroke-width="1.2"/>
<text x="32.4" y="291.29999999999995" font-size="9.8" text-anchor="end" fill="#1e1e1e" font-weight="normal" textLength="9.8" lengthAdjust="spacingAndGlyphs" stroke="#1e1e1e" stroke-width="0.1" >60</text>
<line x1="36.2" y1="258.4" x2="40.0" y2="258.4" stroke="#111" stroke-width="1.2"/>
<text x="32.4" y="261.59999999999997" font-size="9.8" text-anchor="end" fill="#1e1e1e" font-weight="normal" textLength="9.8" lengthAdjust="spacingAndGlyphs" stroke="#1e1e1e" stroke-width="0.1" >80</text>
<line x1="36.2" y1="377.2" x2="205" y2="377.2" stroke="#111" stroke-width="1.3"/>
<rect x="46.30" y="292.2" width="9.23" height="85.00" fill="#a6002c"/>
<rect x="55.48" y="284.5" width="9.23" height="92.70" fill="#2d4e86"/>
<rect x="64.66" y="280.8" width="9.23" height="96.40" fill="#6aab45"/>
<rect x="73.84" y="281.0" width="9.23" height="96.20" fill="#552567"/>
<rect x="83.02" y="286.3" width="9.23" height="90.90" fill="#de8b1c"/>
<line x1="50.89" y1="284.3" x2="50.89" y2="300.3" stroke="#111" stroke-width="1.1"/>
<line x1="49.19" y1="284.3" x2="52.59" y2="284.3" stroke="#111" stroke-width="1.1"/>
<line x1="49.19" y1="300.3" x2="52.59" y2="300.3" stroke="#111" stroke-width="1.1"/>
<line x1="60.06999999999999" y1="278.7" x2="60.06999999999999" y2="289.6" stroke="#111" stroke-width="1.1"/>
<line x1="58.36999999999999" y1="278.7" x2="61.769999999999996" y2="278.7" stroke="#111" stroke-width="1.1"/>
<line x1="58.36999999999999" y1="289.6" x2="61.769999999999996" y2="289.6" stroke="#111" stroke-width="1.1"/>
<line x1="69.25" y1="276.9" x2="69.25" y2="284.0" stroke="#111" stroke-width="1.1"/>
<line x1="67.55" y1="276.9" x2="70.95" y2="276.9" stroke="#111" stroke-width="1.1"/>
<line x1="67.55" y1="284.0" x2="70.95" y2="284.0" stroke="#111" stroke-width="1.1"/>
<line x1="78.43" y1="276.4" x2="78.43" y2="284.8" stroke="#111" stroke-width="1.1"/>
<line x1="76.73" y1="276.4" x2="80.13000000000001" y2="276.4" stroke="#111" stroke-width="1.1"/>
<line x1="76.73" y1="284.8" x2="80.13000000000001" y2="284.8" stroke="#111" stroke-width="1.1"/>
<line x1="87.61" y1="283.1" x2="87.61" y2="289.2" stroke="#111" stroke-width="1.1"/>
<line x1="85.91" y1="283.1" x2="89.31" y2="283.1" stroke="#111" stroke-width="1.1"/>
<line x1="85.91" y1="289.2" x2="89.31" y2="289.2" stroke="#111" stroke-width="1.1"/>
<rect x="102.20" y="370.5" width="9.17" height="6.70" fill="#a6002c"/>
<rect x="111.32" y="321.4" width="9.17" height="55.80" fill="#2d4e86"/>
<rect x="120.44" y="311.9" width="9.17" height="65.30" fill="#6aab45"/>
<rect x="129.56" y="319.2" width="9.17" height="58.00" fill="#552567"/>
<rect x="138.68" y="328.9" width="9.17" height="48.30" fill="#de8b1c"/>
<line x1="106.76" y1="367.7" x2="106.76" y2="373.5" stroke="#111" stroke-width="1.1"/>
<line x1="105.06" y1="367.7" x2="108.46000000000001" y2="367.7" stroke="#111" stroke-width="1.1"/>
<line x1="105.06" y1="373.5" x2="108.46000000000001" y2="373.5" stroke="#111" stroke-width="1.1"/>
<line x1="115.88000000000001" y1="309.2" x2="115.88000000000001" y2="333.3" stroke="#111" stroke-width="1.1"/>
<line x1="114.18" y1="309.2" x2="117.58000000000001" y2="309.2" stroke="#111" stroke-width="1.1"/>
<line x1="114.18" y1="333.3" x2="117.58000000000001" y2="333.3" stroke="#111" stroke-width="1.1"/>
<line x1="125.0" y1="304.1" x2="125.0" y2="319.5" stroke="#111" stroke-width="1.1"/>
<line x1="123.3" y1="304.1" x2="126.7" y2="304.1" stroke="#111" stroke-width="1.1"/>
<line x1="123.3" y1="319.5" x2="126.7" y2="319.5" stroke="#111" stroke-width="1.1"/>
<line x1="134.12" y1="301.5" x2="134.12" y2="336.4" stroke="#111" stroke-width="1.1"/>
<line x1="132.42000000000002" y1="301.5" x2="135.82" y2="301.5" stroke="#111" stroke-width="1.1"/>
<line x1="132.42000000000002" y1="336.4" x2="135.82" y2="336.4" stroke="#111" stroke-width="1.1"/>
<line x1="143.24" y1="314.4" x2="143.24" y2="343.3" stroke="#111" stroke-width="1.1"/>
<line x1="141.54000000000002" y1="314.4" x2="144.94" y2="314.4" stroke="#111" stroke-width="1.1"/>
<line x1="141.54000000000002" y1="343.3" x2="144.94" y2="343.3" stroke="#111" stroke-width="1.1"/>
<rect x="158.50" y="361.2" width="9.15" height="16.00" fill="#a6002c"/>
<rect x="167.60" y="296.0" width="9.15" height="81.20" fill="#2d4e86"/>
<rect x="176.70" y="296.0" width="9.15" height="81.20" fill="#6aab45"/>
<rect x="185.80" y="301.3" width="9.15" height="75.90" fill="#552567"/>
<rect x="194.90" y="297.8" width="9.15" height="79.40" fill="#de8b1c"/>
<line x1="163.05" y1="358.2" x2="163.05" y2="364.3" stroke="#111" stroke-width="1.1"/>
<line x1="161.35000000000002" y1="358.2" x2="164.75" y2="358.2" stroke="#111" stroke-width="1.1"/>
<line x1="161.35000000000002" y1="364.3" x2="164.75" y2="364.3" stroke="#111" stroke-width="1.1"/>
<line x1="172.15" y1="293.4" x2="172.15" y2="298.6" stroke="#111" stroke-width="1.1"/>
<line x1="170.45000000000002" y1="293.4" x2="173.85" y2="293.4" stroke="#111" stroke-width="1.1"/>
<line x1="170.45000000000002" y1="298.6" x2="173.85" y2="298.6" stroke="#111" stroke-width="1.1"/>
<line x1="181.25" y1="294.2" x2="181.25" y2="297.5" stroke="#111" stroke-width="1.1"/>
<line x1="179.55" y1="294.2" x2="182.95" y2="294.2" stroke="#111" stroke-width="1.1"/>
<line x1="179.55" y1="297.5" x2="182.95" y2="297.5" stroke="#111" stroke-width="1.1"/>
<line x1="190.35000000000002" y1="297.2" x2="190.35000000000002" y2="305.0" stroke="#111" stroke-width="1.1"/>
<line x1="188.65000000000003" y1="297.2" x2="192.05" y2="297.2" stroke="#111" stroke-width="1.1"/>
<line x1="188.65000000000003" y1="305.0" x2="192.05" y2="305.0" stroke="#111" stroke-width="1.1"/>
<line x1="199.45000000000002" y1="292.5" x2="199.45000000000002" y2="302.8" stroke="#111" stroke-width="1.1"/>
<line x1="197.75000000000003" y1="292.5" x2="201.15" y2="292.5" stroke="#111" stroke-width="1.1"/>
<line x1="197.75000000000003" y1="302.8" x2="201.15" y2="302.8" stroke="#111" stroke-width="1.1"/>
<polyline points="50.5,271.4 50.5,245.7 158.2,245.7 158.2,342.3" fill="none" stroke="#5470a8" stroke-width="1.1"/>
<polyline points="50.5,258.2 102.4,258.2 102.4,355.4" fill="none" stroke="#5470a8" stroke-width="1.1"/>
<polygon points="88.60,252.70 89.07,253.65 90.12,253.81 89.36,254.55 89.54,255.59 88.60,255.10 87.66,255.59 87.84,254.55 87.08,253.81 88.13,253.65" fill="#44609e" stroke="#44609e" stroke-width="0.35" stroke-linejoin="round"/>
<polygon points="92.50,252.70 92.97,253.65 94.02,253.81 93.26,254.55 93.44,255.59 92.50,255.10 91.56,255.59 91.74,254.55 90.98,253.81 92.03,253.65" fill="#44609e" stroke="#44609e" stroke-width="0.35" stroke-linejoin="round"/>
<polygon points="96.40,252.70 96.87,253.65 97.92,253.81 97.16,254.55 97.34,255.59 96.40,255.10 95.46,255.59 95.64,254.55 94.88,253.81 95.93,253.65" fill="#44609e" stroke="#44609e" stroke-width="0.35" stroke-linejoin="round"/>
<polygon points="143.90,239.90 144.37,240.85 145.42,241.01 144.66,241.75 144.84,242.79 143.90,242.30 142.96,242.79 143.14,241.75 142.38,241.01 143.43,240.85" fill="#44609e" stroke="#44609e" stroke-width="0.35" stroke-linejoin="round"/>
<polygon points="147.80,239.90 148.27,240.85 149.32,241.01 148.56,241.75 148.74,242.79 147.80,242.30 146.86,242.79 147.04,241.75 146.28,241.01 147.33,240.85" fill="#44609e" stroke="#44609e" stroke-width="0.35" stroke-linejoin="round"/>
<polygon points="151.70,239.90 152.17,240.85 153.22,241.01 152.46,241.75 152.64,242.79 151.70,242.30 150.76,242.79 150.94,241.75 150.18,241.01 151.23,240.85" fill="#44609e" stroke="#44609e" stroke-width="0.35" stroke-linejoin="round"/>
<line x1="105.8" y1="269.8" x2="146.5" y2="269.8" stroke="#4a4a4a" stroke-width="1.8"/>
<polygon points="126.55,263.45 127.06,264.49 128.21,264.66 127.38,265.47 127.58,266.62 126.55,266.07 125.52,266.62 125.72,265.47 124.89,264.66 126.04,264.49" fill="#1e1e1e" stroke="#1e1e1e" stroke-width="0.35" stroke-linejoin="round"/>
<polygon points="130.30,263.45 130.81,264.49 131.96,264.66 131.13,265.47 131.33,266.62 130.30,266.07 129.27,266.62 129.47,265.47 128.64,264.66 129.79,264.49" fill="#1e1e1e" stroke="#1e1e1e" stroke-width="0.35" stroke-linejoin="round"/>
<polygon points="134.05,263.45 134.56,264.49 135.71,264.66 134.88,265.47 135.08,266.62 134.05,266.07 133.02,266.62 133.22,265.47 132.39,264.66 133.54,264.49" fill="#1e1e1e" stroke="#1e1e1e" stroke-width="0.35" stroke-linejoin="round"/>
<line x1="105.8" y1="280.3" x2="133.8" y2="280.3" stroke="#4a4a4a" stroke-width="1.8"/>
<polygon points="119.85,274.45 120.36,275.49 121.51,275.66 120.68,276.47 120.88,277.62 119.85,277.07 118.82,277.62 119.02,276.47 118.19,275.66 119.34,275.49" fill="#1e1e1e" stroke="#1e1e1e" stroke-width="0.35" stroke-linejoin="round"/>
<polygon points="123.60,274.45 124.11,275.49 125.26,275.66 124.43,276.47 124.63,277.62 123.60,277.07 122.57,277.62 122.77,276.47 121.94,275.66 123.09,275.49" fill="#1e1e1e" stroke="#1e1e1e" stroke-width="0.35" stroke-linejoin="round"/>
<polygon points="127.35,274.45 127.86,275.49 129.01,275.66 128.18,276.47 128.38,277.62 127.35,277.07 126.32,277.62 126.52,276.47 125.69,275.66 126.84,275.49" fill="#1e1e1e" stroke="#1e1e1e" stroke-width="0.35" stroke-linejoin="round"/>
<line x1="105.8" y1="289.8" x2="124.8" y2="289.8" stroke="#4a4a4a" stroke-width="1.8"/>
<polygon points="111.85,283.75 112.36,284.79 113.51,284.96 112.68,285.77 112.88,286.92 111.85,286.38 110.82,286.92 111.02,285.77 110.19,284.96 111.34,284.79" fill="#1e1e1e" stroke="#1e1e1e" stroke-width="0.35" stroke-linejoin="round"/>
<polygon points="115.60,283.75 116.11,284.79 117.26,284.96 116.43,285.77 116.63,286.92 115.60,286.38 114.57,286.92 114.77,285.77 113.94,284.96 115.09,284.79" fill="#1e1e1e" stroke="#1e1e1e" stroke-width="0.35" stroke-linejoin="round"/>
<polygon points="119.35,283.75 119.86,284.79 121.01,284.96 120.18,285.77 120.38,286.92 119.35,286.38 118.32,286.92 118.52,285.77 117.69,284.96 118.84,284.79" fill="#1e1e1e" stroke="#1e1e1e" stroke-width="0.35" stroke-linejoin="round"/>
<line x1="105.8" y1="300.4" x2="115.8" y2="300.4" stroke="#4a4a4a" stroke-width="1.8"/>
<polygon points="106.95,294.45 107.46,295.49 108.61,295.66 107.78,296.47 107.98,297.62 106.95,297.07 105.92,297.62 106.12,296.47 105.29,295.66 106.44,295.49" fill="#1e1e1e" stroke="#1e1e1e" stroke-width="0.35" stroke-linejoin="round"/>
<polygon points="110.70,294.45 111.21,295.49 112.36,295.66 111.53,296.47 111.73,297.62 110.70,297.07 109.67,297.62 109.87,296.47 109.04,295.66 110.19,295.49" fill="#1e1e1e" stroke="#1e1e1e" stroke-width="0.35" stroke-linejoin="round"/>
<polygon points="114.45,294.45 114.96,295.49 116.11,295.66 115.28,296.47 115.48,297.62 114.45,297.07 113.42,297.62 113.62,296.47 112.79,295.66 113.94,295.49" fill="#1e1e1e" stroke="#1e1e1e" stroke-width="0.35" stroke-linejoin="round"/>
<line x1="161.6" y1="257.7" x2="202.4" y2="257.7" stroke="#4a4a4a" stroke-width="1.8"/>
<polygon points="182.55,251.85 183.06,252.89 184.21,253.06 183.38,253.87 183.58,255.02 182.55,254.47 181.52,255.02 181.72,253.87 180.89,253.06 182.04,252.89" fill="#1e1e1e" stroke="#1e1e1e" stroke-width="0.35" stroke-linejoin="round"/>
<polygon points="186.30,251.85 186.81,252.89 187.96,253.06 187.13,253.87 187.33,255.02 186.30,254.47 185.27,255.02 185.47,253.87 184.64,253.06 185.79,252.89" fill="#1e1e1e" stroke="#1e1e1e" stroke-width="0.35" stroke-linejoin="round"/>
<polygon points="190.05,251.85 190.56,252.89 191.71,253.06 190.88,253.87 191.08,255.02 190.05,254.47 189.02,255.02 189.22,253.87 188.39,253.06 189.54,252.89" fill="#1e1e1e" stroke="#1e1e1e" stroke-width="0.35" stroke-linejoin="round"/>
<line x1="161.6" y1="268.1" x2="189.1" y2="268.1" stroke="#4a4a4a" stroke-width="1.8"/>
<polygon points="174.25,262.35 174.76,263.39 175.91,263.56 175.08,264.37 175.28,265.52 174.25,264.98 173.22,265.52 173.42,264.37 172.59,263.56 173.74,263.39" fill="#1e1e1e" stroke="#1e1e1e" stroke-width="0.35" stroke-linejoin="round"/>
<polygon points="178.00,262.35 178.51,263.39 179.66,263.56 178.83,264.37 179.03,265.52 178.00,264.98 176.97,265.52 177.17,264.37 176.34,263.56 177.49,263.39" fill="#1e1e1e" stroke="#1e1e1e" stroke-width="0.35" stroke-linejoin="round"/>
<polygon points="181.75,262.35 182.26,263.39 183.41,263.56 182.58,264.37 182.78,265.52 181.75,264.98 180.72,265.52 180.92,264.37 180.09,263.56 181.24,263.39" fill="#1e1e1e" stroke="#1e1e1e" stroke-width="0.35" stroke-linejoin="round"/>
<line x1="161.6" y1="277.7" x2="180.7" y2="277.7" stroke="#4a4a4a" stroke-width="1.8"/>
<polygon points="168.45,271.75 168.96,272.79 170.11,272.96 169.28,273.77 169.48,274.92 168.45,274.38 167.42,274.92 167.62,273.77 166.79,272.96 167.94,272.79" fill="#1e1e1e" stroke="#1e1e1e" stroke-width="0.35" stroke-linejoin="round"/>
<polygon points="172.20,271.75 172.71,272.79 173.86,272.96 173.03,273.77 173.23,274.92 172.20,274.38 171.17,274.92 171.37,273.77 170.54,272.96 171.69,272.79" fill="#1e1e1e" stroke="#1e1e1e" stroke-width="0.35" stroke-linejoin="round"/>
<polygon points="175.95,271.75 176.46,272.79 177.61,272.96 176.78,273.77 176.98,274.92 175.95,274.38 174.92,274.92 175.12,273.77 174.29,272.96 175.44,272.79" fill="#1e1e1e" stroke="#1e1e1e" stroke-width="0.35" stroke-linejoin="round"/>
<line x1="161.6" y1="288.2" x2="171.5" y2="288.2" stroke="#4a4a4a" stroke-width="1.8"/>
<polygon points="162.65,282.25 163.16,283.29 164.31,283.46 163.48,284.27 163.68,285.42 162.65,284.88 161.62,285.42 161.82,284.27 160.99,283.46 162.14,283.29" fill="#1e1e1e" stroke="#1e1e1e" stroke-width="0.35" stroke-linejoin="round"/>
<polygon points="166.40,282.25 166.91,283.29 168.06,283.46 167.23,284.27 167.43,285.42 166.40,284.88 165.37,285.42 165.57,284.27 164.74,283.46 165.89,283.29" fill="#1e1e1e" stroke="#1e1e1e" stroke-width="0.35" stroke-linejoin="round"/>
<polygon points="170.15,282.25 170.66,283.29 171.81,283.46 170.98,284.27 171.18,285.42 170.15,284.88 169.12,285.42 169.32,284.27 168.49,283.46 169.64,283.29" fill="#1e1e1e" stroke="#1e1e1e" stroke-width="0.35" stroke-linejoin="round"/>
<text x="58" y="388" font-size="8.6" text-anchor="start" fill="#222" font-weight="normal" textLength="22.8" lengthAdjust="spacingAndGlyphs" stroke="#222" stroke-width="0.15" >shLuc</text>
<text x="102.7" y="388" font-size="8.6" text-anchor="start" fill="#222" font-weight="normal" textLength="44.5" lengthAdjust="spacingAndGlyphs" stroke="#222" stroke-width="0.15" >shRPS14(1)</text>
<text x="159.3" y="388" font-size="8.6" text-anchor="start" fill="#222" font-weight="normal" textLength="44.1" lengthAdjust="spacingAndGlyphs" stroke="#222" stroke-width="0.15" >shRPS14(2)</text>
<text x="73.5" y="232.7" font-size="11" text-anchor="start" fill="#1a1a1a" font-weight="normal" textLength="100.1" lengthAdjust="spacingAndGlyphs" stroke="#1a1a1a" stroke-width="0.15" >CD71+ in ERY media</text>
<text x="0" y="0" font-size="10.6" text-anchor="middle" fill="#222" stroke="#222" stroke-width="0.12" textLength="54.5" lengthAdjust="spacingAndGlyphs" transform="translate(16.8,316.15) rotate(-90)">Percentage (%)</text>
<line x1="247.4" y1="255.1" x2="247.4" y2="377.70000000000005" stroke="#111" stroke-width="1.3"/>
<line x1="243.2" y1="377.1" x2="247.4" y2="377.1" stroke="#111" stroke-width="1.2"/>
<text x="240.0" y="380.3" font-size="9.8" text-anchor="end" fill="#1e1e1e" font-weight="normal" textLength="4.72" lengthAdjust="spacingAndGlyphs" stroke="#1e1e1e" stroke-width="0.1" >0</text>
<line x1="243.2" y1="353.38" x2="247.4" y2="353.38" stroke="#111" stroke-width="1.2"/>
<text x="240.0" y="356.58" font-size="9.8" text-anchor="end" fill="#1e1e1e" font-weight="normal" textLength="9.44" lengthAdjust="spacingAndGlyphs" stroke="#1e1e1e" stroke-width="0.1" >20</text>
<line x1="243.2" y1="329.66" x2="247.4" y2="329.66" stroke="#111" stroke-width="1.2"/>
<text x="240.0" y="332.86" font-size="9.8" text-anchor="end" fill="#1e1e1e" font-weight="normal" textLength="9.44" lengthAdjust="spacingAndGlyphs" stroke="#1e1e1e" stroke-width="0.1" >40</text>
<line x1="243.2" y1="305.94000000000005" x2="247.4" y2="305.94000000000005" stroke="#111" stroke-width="1.2"/>
<text x="240.0" y="309.14000000000004" font-size="9.8" text-anchor="end" fill="#1e1e1e" font-weight="normal" textLength="9.44" lengthAdjust="spacingAndGlyphs" stroke="#1e1e1e" stroke-width="0.1" >60</text>
<line x1="243.2" y1="282.22" x2="247.4" y2="282.22" stroke="#111" stroke-width="1.2"/>
<text x="240.0" y="285.42" font-size="9.8" text-anchor="end" fill="#1e1e1e" font-weight="normal" textLength="9.44" lengthAdjust="spacingAndGlyphs" stroke="#1e1e1e" stroke-width="0.1" >80</text>
<line x1="243.2" y1="258.5" x2="247.4" y2="258.5" stroke="#111" stroke-width="1.2"/>
<text x="240.0" y="261.7" font-size="9.8" text-anchor="end" fill="#1e1e1e" font-weight="normal" textLength="14.16" lengthAdjust="spacingAndGlyphs" stroke="#1e1e1e" stroke-width="0.1" >100</text>
<line x1="243.2" y1="377.1" x2="414.1" y2="377.1" stroke="#111" stroke-width="1.3"/>
<rect x="253.70" y="326.7" width="9.11" height="50.40" fill="#a6002c"/>
<rect x="262.76" y="310.4" width="9.11" height="66.70" fill="#2d4e86"/>
<rect x="271.82" y="317.2" width="9.11" height="59.90" fill="#6aab45"/>
<rect x="280.88" y="302.8" width="9.11" height="74.30" fill="#552567"/>
<rect x="289.94" y="309.8" width="9.11" height="67.30" fill="#de8b1c"/>
<line x1="258.22999999999996" y1="322.5" x2="258.22999999999996" y2="330.7" stroke="#111" stroke-width="1.1"/>
<line x1="256.53" y1="322.5" x2="259.92999999999995" y2="322.5" stroke="#111" stroke-width="1.1"/>
<line x1="256.53" y1="330.7" x2="259.92999999999995" y2="330.7" stroke="#111" stroke-width="1.1"/>
<line x1="267.28999999999996" y1="307.4" x2="267.28999999999996" y2="312.6" stroke="#111" stroke-width="1.1"/>
<line x1="265.59" y1="307.4" x2="268.98999999999995" y2="307.4" stroke="#111" stroke-width="1.1"/>
<line x1="265.59" y1="312.6" x2="268.98999999999995" y2="312.6" stroke="#111" stroke-width="1.1"/>
<line x1="276.34999999999997" y1="315.4" x2="276.34999999999997" y2="318.7" stroke="#111" stroke-width="1.1"/>
<line x1="274.65" y1="315.4" x2="278.04999999999995" y2="315.4" stroke="#111" stroke-width="1.1"/>
<line x1="274.65" y1="318.7" x2="278.04999999999995" y2="318.7" stroke="#111" stroke-width="1.1"/>
<line x1="285.40999999999997" y1="297.3" x2="285.40999999999997" y2="307.4" stroke="#111" stroke-width="1.1"/>
<line x1="283.71" y1="297.3" x2="287.10999999999996" y2="297.3" stroke="#111" stroke-width="1.1"/>
<line x1="283.71" y1="307.4" x2="287.10999999999996" y2="307.4" stroke="#111" stroke-width="1.1"/>
<line x1="294.46999999999997" y1="305.6" x2="294.46999999999997" y2="313.6" stroke="#111" stroke-width="1.1"/>
<line x1="292.77" y1="305.6" x2="296.16999999999996" y2="305.6" stroke="#111" stroke-width="1.1"/>
<line x1="292.77" y1="313.6" x2="296.16999999999996" y2="313.6" stroke="#111" stroke-width="1.1"/>
<rect x="308.60" y="286.3" width="9.13" height="90.80" fill="#a6002c"/>
<rect x="317.68" y="289.8" width="9.13" height="87.30" fill="#2d4e86"/>
<rect x="326.76" y="295.0" width="9.13" height="82.10" fill="#6aab45"/>
<rect x="335.84" y="289.8" width="9.13" height="87.30" fill="#552567"/>
<rect x="344.92" y="288.9" width="9.13" height="88.20" fill="#de8b1c"/>
<line x1="313.14000000000004" y1="282.6" x2="313.14000000000004" y2="289.6" stroke="#111" stroke-width="1.1"/>
<line x1="311.44000000000005" y1="282.6" x2="314.84000000000003" y2="282.6" stroke="#111" stroke-width="1.1"/>
<line x1="311.44000000000005" y1="289.6" x2="314.84000000000003" y2="289.6" stroke="#111" stroke-width="1.1"/>
<line x1="322.22" y1="281.0" x2="322.22" y2="298.0" stroke="#111" stroke-width="1.1"/>
<line x1="320.52000000000004" y1="281.0" x2="323.92" y2="281.0" stroke="#111" stroke-width="1.1"/>
<line x1="320.52000000000004" y1="298.0" x2="323.92" y2="298.0" stroke="#111" stroke-width="1.1"/>
<line x1="331.30000000000007" y1="284.5" x2="331.30000000000007" y2="304.7" stroke="#111" stroke-width="1.1"/>
<line x1="329.6000000000001" y1="284.5" x2="333.00000000000006" y2="284.5" stroke="#111" stroke-width="1.1"/>
<line x1="329.6000000000001" y1="304.7" x2="333.00000000000006" y2="304.7" stroke="#111" stroke-width="1.1"/>
<line x1="340.38000000000005" y1="285.4" x2="340.38000000000005" y2="293.6" stroke="#111" stroke-width="1.1"/>
<line x1="338.68000000000006" y1="285.4" x2="342.08000000000004" y2="285.4" stroke="#111" stroke-width="1.1"/>
<line x1="338.68000000000006" y1="293.6" x2="342.08000000000004" y2="293.6" stroke="#111" stroke-width="1.1"/>
<line x1="349.46000000000004" y1="284.5" x2="349.46000000000004" y2="292.4" stroke="#111" stroke-width="1.1"/>
<line x1="347.76000000000005" y1="284.5" x2="351.16" y2="284.5" stroke="#111" stroke-width="1.1"/>
<line x1="347.76000000000005" y1="292.4" x2="351.16" y2="292.4" stroke="#111" stroke-width="1.1"/>
<rect x="363.30" y="300.8" width="9.19" height="76.30" fill="#a6002c"/>
<rect x="372.44" y="294.6" width="9.19" height="82.50" fill="#2d4e86"/>
<rect x="381.58" y="291.8" width="9.19" height="85.30" fill="#6aab45"/>
<rect x="390.72" y="298.1" width="9.19" height="79.00" fill="#552567"/>
<rect x="399.86" y="292.8" width="9.19" height="84.30" fill="#de8b1c"/>
<line x1="367.87" y1="293.3" x2="367.87" y2="307.6" stroke="#111" stroke-width="1.1"/>
<line x1="366.17" y1="293.3" x2="369.57" y2="293.3" stroke="#111" stroke-width="1.1"/>
<line x1="366.17" y1="307.6" x2="369.57" y2="307.6" stroke="#111" stroke-width="1.1"/>
<line x1="377.01" y1="294.0" x2="377.01" y2="296.0" stroke="#111" stroke-width="1.1"/>
<line x1="375.31" y1="294.0" x2="378.71" y2="294.0" stroke="#111" stroke-width="1.1"/>
<line x1="375.31" y1="296.0" x2="378.71" y2="296.0" stroke="#111" stroke-width="1.1"/>
<line x1="386.15000000000003" y1="287.5" x2="386.15000000000003" y2="295.1" stroke="#111" stroke-width="1.1"/>
<line x1="384.45000000000005" y1="287.5" x2="387.85" y2="287.5" stroke="#111" stroke-width="1.1"/>
<line x1="384.45000000000005" y1="295.1" x2="387.85" y2="295.1" stroke="#111" stroke-width="1.1"/>
<line x1="395.29" y1="291.3" x2="395.29" y2="304.1" stroke="#111" stroke-width="1.1"/>
<line x1="393.59000000000003" y1="291.3" x2="396.99" y2="291.3" stroke="#111" stroke-width="1.1"/>
<line x1="393.59000000000003" y1="304.1" x2="396.99" y2="304.1" stroke="#111" stroke-width="1.1"/>
<line x1="404.43" y1="291.3" x2="404.43" y2="293.6" stroke="#111" stroke-width="1.1"/>
<line x1="402.73" y1="291.3" x2="406.13" y2="291.3" stroke="#111" stroke-width="1.1"/>
<line x1="402.73" y1="293.6" x2="406.13" y2="293.6" stroke="#111" stroke-width="1.1"/>
<polyline points="252.1,311.6 252.1,245.6 365.6,245.6 365.6,287.0" fill="none" stroke="#5470a8" stroke-width="1.1"/>
<polyline points="252.1,258.5 308.4,258.5 308.4,278.7" fill="none" stroke="#5470a8" stroke-width="1.1"/>
<polygon points="295.80,251.90 296.27,252.85 297.32,253.01 296.56,253.75 296.74,254.79 295.80,254.30 294.86,254.79 295.04,253.75 294.28,253.01 295.33,252.85" fill="#44609e" stroke="#44609e" stroke-width="0.35" stroke-linejoin="round"/>
<polygon points="299.70,251.90 300.17,252.85 301.22,253.01 300.46,253.75 300.64,254.79 299.70,254.30 298.76,254.79 298.94,253.75 298.18,253.01 299.23,252.85" fill="#44609e" stroke="#44609e" stroke-width="0.35" stroke-linejoin="round"/>
<polygon points="303.60,251.90 304.07,252.85 305.12,253.01 304.36,253.75 304.54,254.79 303.60,254.30 302.66,254.79 302.84,253.75 302.08,253.01 303.13,252.85" fill="#44609e" stroke="#44609e" stroke-width="0.35" stroke-linejoin="round"/>
<polygon points="351.50,239.90 351.97,240.85 353.02,241.01 352.26,241.75 352.44,242.79 351.50,242.30 350.56,242.79 350.74,241.75 349.98,241.01 351.03,240.85" fill="#44609e" stroke="#44609e" stroke-width="0.35" stroke-linejoin="round"/>
<polygon points="355.40,239.90 355.87,240.85 356.92,241.01 356.16,241.75 356.34,242.79 355.40,242.30 354.46,242.79 354.64,241.75 353.88,241.01 354.93,240.85" fill="#44609e" stroke="#44609e" stroke-width="0.35" stroke-linejoin="round"/>
<polygon points="359.30,239.90 359.77,240.85 360.82,241.01 360.06,241.75 360.24,242.79 359.30,242.30 358.36,242.79 358.54,241.75 357.78,241.01 358.83,240.85" fill="#44609e" stroke="#44609e" stroke-width="0.35" stroke-linejoin="round"/>
<line x1="254.7" y1="278.3" x2="295.3" y2="278.3" stroke="#4a4a4a" stroke-width="1.8"/>
<polygon points="275.00,271.95 275.51,272.99 276.66,273.16 275.83,273.97 276.03,275.12 275.00,274.57 273.97,275.12 274.17,273.97 273.34,273.16 274.49,272.99" fill="#1e1e1e" stroke="#1e1e1e" stroke-width="0.35" stroke-linejoin="round"/>
<line x1="254.7" y1="289.1" x2="282.7" y2="289.1" stroke="#4a4a4a" stroke-width="1.8"/>
<polygon points="265.25,282.95 265.76,283.99 266.91,284.16 266.08,284.97 266.28,286.12 265.25,285.57 264.22,286.12 264.42,284.97 263.59,284.16 264.74,283.99" fill="#1e1e1e" stroke="#1e1e1e" stroke-width="0.35" stroke-linejoin="round"/>
<polygon points="269.00,282.95 269.51,283.99 270.66,284.16 269.83,284.97 270.03,286.12 269.00,285.57 267.97,286.12 268.17,284.97 267.34,284.16 268.49,283.99" fill="#1e1e1e" stroke="#1e1e1e" stroke-width="0.35" stroke-linejoin="round"/>
<polygon points="272.75,282.95 273.26,283.99 274.41,284.16 273.58,284.97 273.78,286.12 272.75,285.57 271.72,286.12 271.92,284.97 271.09,284.16 272.24,283.99" fill="#1e1e1e" stroke="#1e1e1e" stroke-width="0.35" stroke-linejoin="round"/>
<line x1="254.7" y1="302.2" x2="264.6" y2="302.2" stroke="#4a4a4a" stroke-width="1.8"/>
<polygon points="259.70,296.25 260.21,297.29 261.36,297.46 260.53,298.27 260.73,299.42 259.70,298.88 258.67,299.42 258.87,298.27 258.04,297.46 259.19,297.29" fill="#1e1e1e" stroke="#1e1e1e" stroke-width="0.35" stroke-linejoin="round"/>
<text x="265.4" y="388.5" font-size="8.6" text-anchor="start" fill="#222" font-weight="normal" textLength="22.2" lengthAdjust="spacingAndGlyphs" stroke="#222" stroke-width="0.15" >shLuc</text>
<text x="308.8" y="388.5" font-size="8.6" text-anchor="start" fill="#222" font-weight="normal" textLength="45.1" lengthAdjust="spacingAndGlyphs" stroke="#222" stroke-width="0.15" >shRPS14(1)</text>
<text x="364.4" y="388.5" font-size="8.6" text-anchor="start" fill="#222" font-weight="normal" textLength="44.1" lengthAdjust="spacingAndGlyphs" stroke="#222" stroke-width="0.15" >shRPS14(2)</text>
<text x="278.8" y="233.0" font-size="11" text-anchor="start" fill="#1a1a1a" font-weight="normal" textLength="103.7" lengthAdjust="spacingAndGlyphs" stroke="#1a1a1a" stroke-width="0.15" >CD11b+ in MY media</text>
<rect x="422.3" y="327.2" width="7.6" height="7.5" fill="#a6002c"/>
<text x="434.0" y="333.3" font-size="7.9" text-anchor="start" fill="#1a1a1a" font-weight="normal" textLength="24.0" lengthAdjust="spacingAndGlyphs" stroke="#1a1a1a" stroke-width="0.08" >DMSO</text>
<rect x="422.3" y="336.9" width="7.6" height="7.5" fill="#2d4e86"/>
<text x="434.0" y="343.0" font-size="7.9" text-anchor="start" fill="#1a1a1a" font-weight="normal" textLength="15.7" lengthAdjust="spacingAndGlyphs" stroke="#1a1a1a" stroke-width="0.08" >9-I-L</text>
<rect x="422.3" y="346.6" width="7.6" height="7.5" fill="#6aab45"/>
<text x="434.0" y="352.7" font-size="7.9" text-anchor="start" fill="#1a1a1a" font-weight="normal" textLength="18.1" lengthAdjust="spacingAndGlyphs" stroke="#1a1a1a" stroke-width="0.08" >9-I-H</text>
<rect x="422.3" y="356.3" width="7.6" height="7.5" fill="#552567"/>
<text x="434.0" y="362.4" font-size="7.9" text-anchor="start" fill="#1a1a1a" font-weight="normal" textLength="18.8" lengthAdjust="spacingAndGlyphs" stroke="#1a1a1a" stroke-width="0.08" >9-II-L</text>
<rect x="422.3" y="365.9" width="7.6" height="7.5" fill="#de8b1c"/>
<text x="434.0" y="372.1" font-size="7.9" text-anchor="start" fill="#1a1a1a" font-weight="normal" textLength="20.0" lengthAdjust="spacingAndGlyphs" stroke="#1a1a1a" stroke-width="0.08" >9-II-H</text>
<rect x="0" y="0" width="520" height="1" fill="#000"/>
<rect x="0" y="0" width="1" height="398" fill="#000"/>
<rect x="518.8" y="0" width="1.2" height="398" fill="#000"/>
<rect x="0" y="396.5" width="520" height="1.5" fill="#000"/>
</svg>
</body></html>
